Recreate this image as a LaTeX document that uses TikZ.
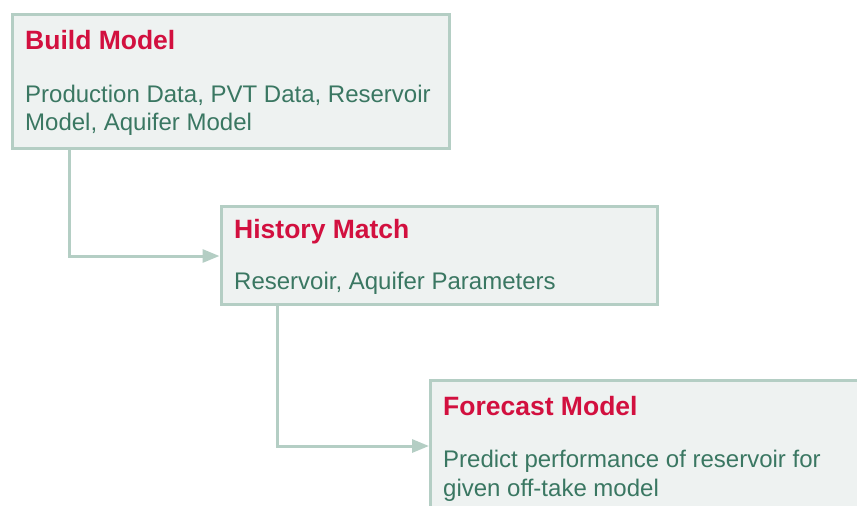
\documentclass[tikz,border=0pt]{standalone}
\usepackage{fontspec}
\setmainfont{Liberation Sans}
\usetikzlibrary{arrows.meta}
\definecolor{boxline}{HTML}{B4CEC4}
\definecolor{boxfill}{HTML}{EEF2F1}
\definecolor{titlered}{HTML}{D2103F}
\definecolor{bodygreen}{HTML}{3A7762}
\tikzset{
  box/.style={draw=boxline, fill=boxfill, line width=3pt, rectangle, inner sep=0pt, anchor=north west},
  ttl/.style={anchor=base west, inner sep=0pt, text=titlered, font=\fontsize{26.5}{30}\selectfont\bfseries},
  bdy/.style={anchor=base west, inner sep=0pt, text=bodygreen, font=\fontsize{24}{28}\selectfont},
  conn/.style={draw=boxline, line width=3pt, -{Triangle[length=17pt,width=13pt]}}
}
\begin{document}
\begin{tikzpicture}[x=1pt,y=-1pt]
\useasboundingbox (0,0) rectangle (857,506);
\clip (0,0) rectangle (857,506);
\fill[white] (0,0) rectangle (857,506);
% boxes
\node[box, minimum width=436.5pt, minimum height=134pt] (b1) at (11,12.5) {};
\node[box, minimum width=436pt, minimum height=98pt] (b2) at (219.5,205) {};
\node[box, minimum width=460pt, minimum height=160pt] (b3) at (429,379) {};
% texts
\node[ttl] (t1) at (25,49) {Build Model};
\node[bdy] (b1a) at (25,102) {Production Data, PVT Data, Reservoir};
\node[bdy] (b1b) at (25,130) {Model, Aquifer Model};
\node[ttl] (t2) at (234,238) {History Match};
\node[bdy] (b2a) at (234,289) {Reservoir, Aquifer Parameters};
\node[ttl] (t3) at (443,415) {Forecast Model};
\node[bdy] (b3a) at (443,467.5) {Predict performance of reservoir for};
\node[bdy] (b3b) at (443,496) {given off-take model};
% connectors
\draw[conn] ([xshift=58pt]b1.south west) |- ([yshift=-51pt]b2.north west);
\draw[conn] ([xshift=58pt]b2.south west) |- ([yshift=-67pt]b3.north west);
\end{tikzpicture}
\end{document}
